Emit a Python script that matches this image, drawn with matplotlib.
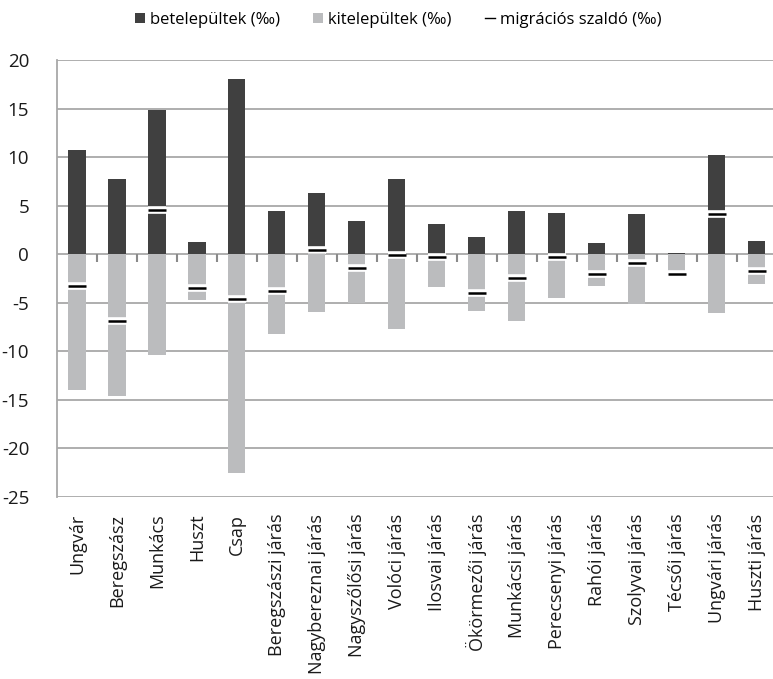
import numpy as np
import matplotlib.pyplot as plt
from matplotlib.lines import Line2D
from matplotlib.patches import Patch

plt.rcParams['font.family'] = ['Open Sans', 'DejaVu Sans']
plt.rcParams['axes.unicode_minus'] = False

places = ["Ungvár", "Beregszász", "Munkács", "Huszt", "Csap",
          "Beregszászi járás", "Nagybereznai járás", "Nagyszőlősi járás",
          "Volóci járás", "Ilosvai járás", "Ökörmezői járás", "Munkácsi járás",
          "Perecsenyi járás", "Rahói járás", "Szolyvai járás", "Técsői járás",
          "Ungvári járás", "Huszti járás"]

# per mille values
bete = [10.7, 7.7, 14.9, 1.3, 18.0, 4.4, 6.35, 3.45, 7.7, 3.15,
        1.8, 4.45, 4.25, 1.15, 4.15, 0.1, 10.2, 1.35]
kite = [-14.0, -14.6, -10.35, -4.75, -22.5, -8.25, -5.95, -5.0, -7.75, -3.4,
        -5.85, -6.9, -4.55, -3.25, -5.1, -2.1, -6.05, -3.05]
saldo = [-3.3, -6.85, 4.6, -3.45, -4.6, -3.8, 0.45, -1.45, -0.05, -0.25,
         -4.0, -2.4, -0.3, -2.0, -0.95, -2.0, 4.15, -1.75]

dark = '#404040'
light = '#BBBCBE'
gridc = '#A8A8A8'

fig = plt.figure(figsize=(7.73, 6.79), dpi=100)
ax = fig.add_axes([57 / 773, 182 / 679, 716 / 773, 437 / 679])

x = np.arange(len(places))
w = 0.43
ax.bar(x, bete, width=w, color=dark, zorder=3)
ax.bar(x, kite, width=w, color=light, zorder=3)
# saldo marker: black dash with white outline
ax.plot(x, saldo, linestyle='none', marker='_', markersize=13.5,
        markeredgewidth=5.5, color='white', zorder=4)
ax.plot(x, saldo, linestyle='none', marker='_', markersize=13,
        markeredgewidth=1.8, color='black', zorder=5)

ax.set_ylim(-25, 20)
ax.set_xlim(-0.5, 17.41)
ax.set_yticks(np.arange(-25, 21, 5))
ax.yaxis.grid(True, color=gridc, linewidth=1.3, zorder=0)
ax.set_axisbelow(True)

# category separators hanging below the zero line (excel style ticks)
ax.vlines(x + 0.5, -0.75, 0, color='#8a8a8a', linewidth=1.5, zorder=6)

for s in ['top', 'right', 'bottom']:
    ax.spines[s].set_visible(False)
ax.spines['left'].set_color(gridc)
ax.spines['left'].set_linewidth(1.3)

ax.tick_params(axis='y', length=0, pad=20, labelsize=13.5, labelcolor='#1a1a1a')
ax.set_xticks(x)
ax.set_xticklabels(places, rotation=90, fontsize=13, color='#1a1a1a')
ax.tick_params(axis='x', length=0, pad=12)

handles = [Patch(facecolor=dark), Patch(facecolor=light),
           Line2D([0], [0], color='black', linewidth=1)]
labels = ['betelepültek (‰)', 'kitelepültek (‰)', 'migrációs szaldó (‰)']
fig.legend(handles, labels, loc='center', bbox_to_anchor=(398 / 773, 1 - 20 / 679),
           ncol=3, frameon=False, fontsize=12, handlelength=0.6, handleheight=0.6,
           handletextpad=0.3, columnspacing=2.0)

fig.savefig('out.png', dpi=100)
